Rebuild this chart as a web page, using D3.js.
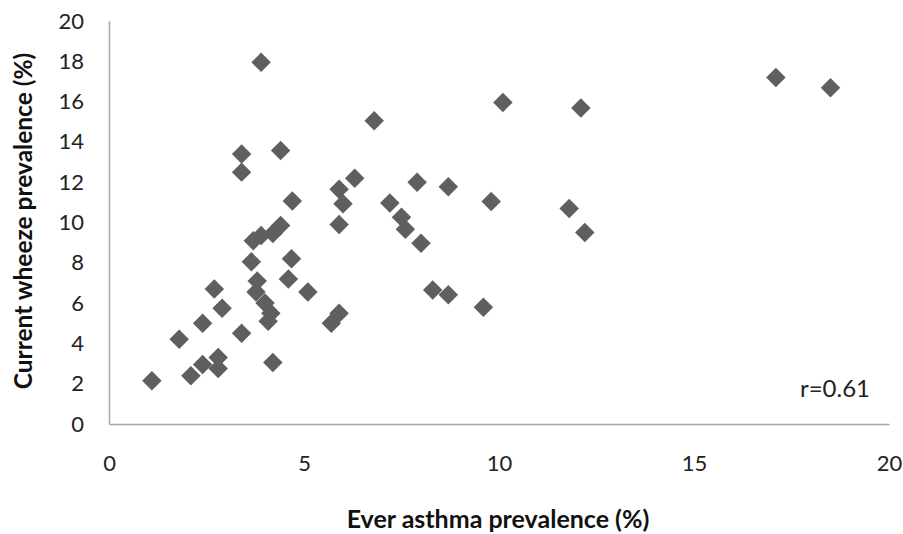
<!DOCTYPE html>
<html>
<head>
<meta charset="utf-8">
<script src="https://cdn.jsdelivr.net/npm/d3@7"></script>
<style>
  html, body { margin: 0; padding: 0; background: #fff; }
  svg { display: block; }
  .tick text { font-family: Lato, "Open Sans", sans-serif; font-size: 22px; fill: #222; }
  .axis-title { font-family: Lato, "Open Sans", sans-serif; font-weight: bold; fill: #111; }
  .note { font-family: Lato, "Open Sans", sans-serif; font-size: 24px; fill: #222; }
</style>
</head>
<body>
<script>
// Ever asthma prevalence (%) per centre
const everAsthma = [
  1.1, 2.1, 2.4, 2.8, 2.8, 1.8, 2.4, 2.9, 2.7, 3.4,
  4.2, 3.65, 3.8, 3.77, 4.0, 4.15, 4.08, 4.68, 4.6, 5.1,
  5.7, 5.9, 3.7, 3.9, 4.2, 4.4, 4.7, 3.4, 3.4, 4.4,
  3.9, 5.9, 6.0, 5.9, 6.3, 6.8, 7.9, 8.7, 9.8, 7.2,
  7.5, 7.6, 8.0, 8.3, 8.7, 9.6, 10.1, 12.1, 11.8, 12.2,
  17.1, 18.5
];
// Current wheeze prevalence (%) per centre
const currentWheeze = [
  2.15, 2.4, 2.95, 3.3, 2.75, 4.2, 5.0, 5.75, 6.7, 4.5,
  3.05, 8.05, 7.1, 6.55, 6.0, 5.5, 5.1, 8.2, 7.2, 6.55,
  5.0, 5.5, 9.1, 9.35, 9.45, 9.85, 11.07, 13.4, 12.5, 13.57,
  17.95, 11.65, 10.93, 9.9, 12.2, 15.05, 12.0, 11.78, 11.04, 10.97,
  10.26, 9.66, 8.97, 6.65, 6.42, 5.79, 15.96, 15.68, 10.69, 9.5,
  17.2, 16.69
];
const xTicks = [0, 5, 10, 15, 20];
const yTicks = [0, 2, 4, 6, 8, 10, 12, 14, 16, 18, 20];
const xTitle = "Ever asthma prevalence (%)";
const yTitle = "Current wheeze prevalence (%)";
const corrLabel = "r=0.61";

const W = 903, H = 534;
const plot = { left: 109, right: 889, top: 21, bottom: 424 };

const svg = d3.select("body").append("svg")
  .attr("width", W).attr("height", H);

const x = d3.scaleLinear().domain([0, 20]).range([plot.left, plot.right]);
const y = d3.scaleLinear().domain([0, 20]).range([plot.bottom, plot.top]);

// Axes: plain grey lines, no tick marks
const xAxis = svg.append("g")
  .attr("transform", `translate(0,${plot.bottom})`)
  .call(d3.axisBottom(x).tickValues(xTicks).tickSize(0).tickPadding(31).tickFormat(d3.format("d")));
const yAxis = svg.append("g")
  .attr("transform", `translate(${plot.left},0)`)
  .call(d3.axisLeft(y).tickValues(yTicks).tickSize(0).tickPadding(25).tickFormat(d3.format("d")));

[xAxis, yAxis].forEach(g => {
  g.select(".domain").attr("stroke", "#a6a6a6").attr("stroke-width", 1.5);
  g.attr("font-family", null).attr("font-size", null);
});

// Points drawn as diamonds (squares turned 45 degrees)
const pts = everAsthma.map((v, i) => ({ x: v, y: currentWheeze[i] }));
const diamond = d3.symbol().type(d3.symbolSquare).size(190);
svg.append("g").selectAll("path")
  .data(pts)
  .join("path")
  .attr("d", diamond)
  .attr("transform", d => `translate(${x(d.x)},${y(d.y)}) rotate(45)`)
  .attr("fill", "#5f5f5f");

// Axis titles
svg.append("text")
  .attr("class", "axis-title")
  .attr("font-size", 25)
  .attr("x", 498)
  .attr("y", 528)
  .attr("text-anchor", "middle")
  .text(xTitle);

svg.append("text")
  .attr("class", "axis-title")
  .attr("font-size", 24.5)
  .attr("transform", `translate(32,221) rotate(-90)`)
  .attr("text-anchor", "middle")
  .text(yTitle);

// Correlation note
svg.append("text")
  .attr("class", "note")
  .attr("x", 870)
  .attr("y", 397)
  .attr("text-anchor", "end")
  .text(corrLabel);
</script>
</body>
</html>
